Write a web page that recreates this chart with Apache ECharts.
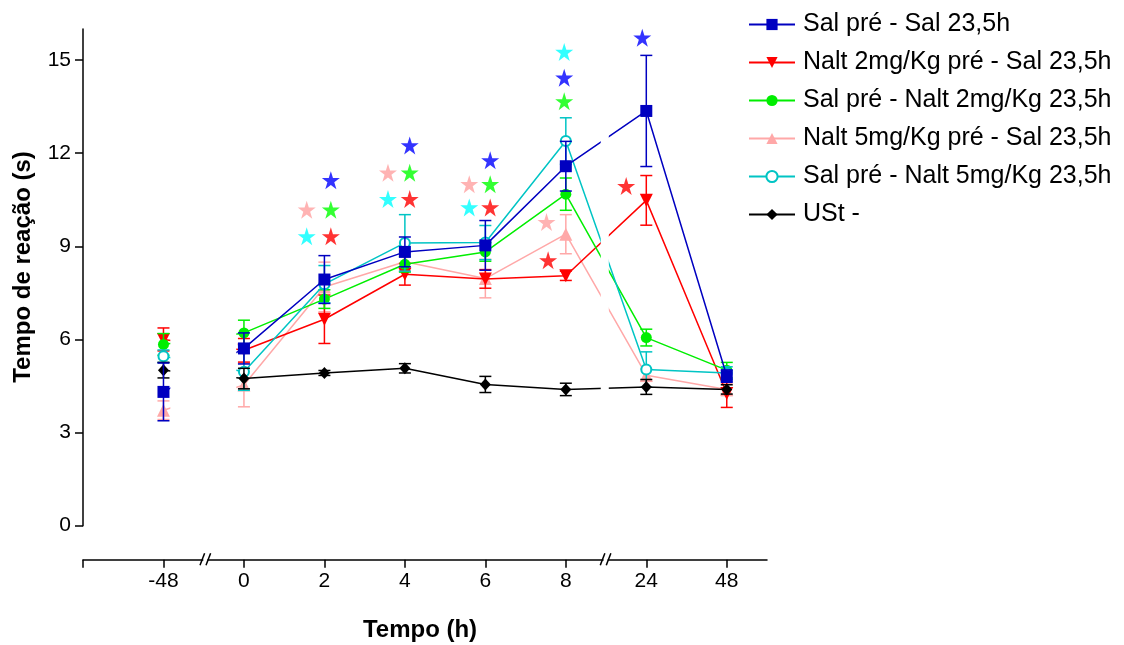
<!DOCTYPE html>
<html><head><meta charset="utf-8">
<script src="https://cdn.jsdelivr.net/npm/echarts@6/dist/echarts.min.js"></script>
<style>html,body{margin:0;padding:0;background:#fff}#c{width:1124px;height:645px}</style>
</head><body><div id="c"></div>
<script>
// ---- data ----
const categories = ['-48', '0', '2', '4', '6', '8', '24', '48'];
const yTicks = [0, 3, 6, 9, 12, 15];

const salSal      = [4.31, 5.71, 7.93, 8.82, 9.03, 11.58, 13.36, 4.82];
const salSalErr   = [0.93, 0.50, 0.77, 0.48, 0.80, 0.80, 1.79, 0.20];
const nalt2Sal    = [6.00, 5.65, 6.65, 8.10, 7.95, 8.05, 10.48, 4.26];
const nalt2SalErr = [0.37, 0.38, 0.78, 0.35, 0.30, 0.15, 0.80, 0.45];
const salNalt2    = [5.84, 6.21, 7.30, 8.42, 8.82, 10.68, 6.06, 5.01];
const salNalt2Err = [0.35, 0.41, 0.30, 0.25, 0.30, 0.52, 0.27, 0.25];
const nalt5Sal    = [3.72, 4.53, 7.69, 8.50, 7.96, 9.39, 4.85, 4.39];
const nalt5SalErr = [0.30, 0.70, 0.80, 0.30, 0.62, 0.63, 0.20, 0.20];
const salNalt5    = [5.46, 4.96, 7.78, 9.11, 9.12, 12.39, 5.03, 4.92];
const salNalt5Err = [0.20, 0.60, 0.60, 0.91, 0.55, 0.75, 0.57, 0.20];
const ust         = [5.01, 4.74, 4.92, 5.07, 4.55, 4.39, 4.47, 4.39];
const ustErr      = [0.25, 0.33, 0.08, 0.15, 0.26, 0.20, 0.24, 0.15];

// significance stars: [category position, value]
const starsBlue  = [[2.08, 11.13], [3.06, 12.25], [4.06, 11.77], [4.98, 14.43], [5.95, 15.72]];
const starsRed   = [[2.08, 9.32], [3.06, 10.52], [4.06, 10.25], [4.78, 8.55], [5.75, 10.94]];
const starsGreen = [[2.08, 10.18], [3.06, 11.37], [4.06, 11.00], [4.98, 13.67]];
const starsPink  = [[1.78, 10.18], [2.79, 11.37], [3.80, 11.00], [4.76, 9.78]];
const starsCyan  = [[1.78, 9.32], [2.79, 10.52], [3.80, 10.25], [4.98, 15.26]];

// axis breaks (category positions) and line gaps
const breaks = [0.52, 5.494];
const gaps = [[0.085, 0.905], [5.434, 5.534]];

// ---- styling ----
const FONT = '"Liberation Sans", Arial, Helvetica, sans-serif';
const STAR = 'path://M50,0 L61.2,34.5 L97.6,34.5 L68.2,55.9 L79.4,90.5 L50,69.1 L20.6,90.5 L31.8,55.9 L2.4,34.5 L38.8,34.5 Z';

const groups = [
  {name: 'Sal pré - Sal 23,5h', v: salSal, e: salSalErr, color: '#0000C0', symbol: 'rect', size: 12, rot: 0, z: 8},
  {name: 'Nalt 2mg/Kg pré - Sal 23,5h', v: nalt2Sal, e: nalt2SalErr, color: '#FF0000', symbol: 'triangle', size: 13, rot: 180, z: 4},
  {name: 'Sal pré - Nalt 2mg/Kg 23,5h', v: salNalt2, e: salNalt2Err, color: '#00EE00', symbol: 'circle', size: 11, rot: 0, z: 5},
  {name: 'Nalt 5mg/Kg pré - Sal 23,5h', v: nalt5Sal, e: nalt5SalErr, color: '#FFA8A8', symbol: 'triangle', size: 13, rot: 0, z: 3},
  {name: 'Sal pré - Nalt 5mg/Kg 23,5h', v: salNalt5, e: salNalt5Err, color: '#00C4C4', symbol: 'emptyCircle', size: 10, rot: 0, z: 6},
  {name: 'USt -', v: ust, e: ustErr, color: '#000000', symbol: 'diamond', size: [11, 12], rot: 0, z: 7}
];

function errorBar(color) {
  return function (params, api) {
    const x = api.value(0), y = api.value(1), e = api.value(2);
    const t = api.coord([x, y + e]);
    const b = api.coord([x, y - e]);
    const w = 6;
    const st = {stroke: color, lineWidth: 1.5};
    return {type: 'group', children: [
      {type: 'line', shape: {x1: t[0], y1: t[1], x2: b[0], y2: b[1]}, style: st},
      {type: 'line', shape: {x1: t[0] - w, y1: t[1], x2: t[0] + w, y2: t[1]}, style: st},
      {type: 'line', shape: {x1: b[0] - w, y1: b[1], x2: b[0] + w, y2: b[1]}, style: st}
    ]};
  };
}

const series = [];
groups.forEach(g => {
  series.push({
    type: 'custom', silent: true, z: g.z - 0.5,
    renderItem: errorBar(g.color),
    encode: {x: 0, y: 1},
    data: g.v.map((v, i) => [i, v, g.e[i]])
  });
  series.push({
    type: 'line', name: g.name, z: g.z,
    data: g.v.map((v, i) => [i, v]),
    symbol: g.symbol, symbolSize: g.size, symbolRotate: g.rot,
    showAllSymbol: true,
    lineStyle: {color: g.color, width: 1.5},
    itemStyle: {color: g.color, borderWidth: g.symbol === 'emptyCircle' ? 1.5 : 0, borderColor: g.color},
    emphasis: {disabled: true},
    animation: false
  });
});
[[starsBlue, '#0000FF'], [starsRed, '#FF0000'], [starsGreen, '#00FF00'], [starsPink, '#FFA0A0'], [starsCyan, '#00FFFF']]
  .forEach(([d, c]) => series.push({
    type: 'scatter', data: d, symbol: STAR, symbolSize: 18, z: 9,
    itemStyle: {color: c}, silent: true, animation: false
  }));

const chart = echarts.init(document.getElementById('c'), null, {renderer: 'canvas'});
chart.setOption({
  backgroundColor: '#fff',
  animation: false,
  grid: {left: 83, right: 357, top: 29, bottom: 119.3, containLabel: false},
  xAxis: {
    type: 'value', min: -1, max: 7.5, offset: 34, position: 'bottom',
    axisLine: {show: true, onZero: false, lineStyle: {color: '#000', width: 1.5}},
    axisTick: {show: true, length: 8, inside: false, lineStyle: {color: '#000', width: 1.5},
      customValues: [-1, 0, 1, 2, 3, 4, 5, 6, 7]},
    axisLabel: {show: true, margin: 11, color: '#000', fontSize: 21, fontFamily: FONT,
      customValues: [0, 1, 2, 3, 4, 5, 6, 7],
      formatter: v => categories[Math.round(v)] ?? ''},
    splitLine: {show: false}
  },
  yAxis: {
    type: 'value', min: 0, max: 16, position: 'left',
    axisLine: {show: true, onZero: false, lineStyle: {color: '#000', width: 1.5}},
    axisTick: {show: true, length: 8, lineStyle: {color: '#000', width: 1.5}, customValues: yTicks},
    axisLabel: {show: true, margin: 12, color: '#000', fontSize: 21, fontFamily: FONT, customValues: yTicks},
    splitLine: {show: false}
  },
  legend: {
    orient: 'vertical', left: 743, top: 7,
    itemWidth: 46, itemHeight: 14, itemGap: 13,
    data: groups.map(g => g.name),
    textStyle: {color: '#000', fontSize: 25, fontFamily: FONT, padding: [0, 0, 0, 3]},
    selectedMode: false
  },
  series: series
});

// masks for the broken segments, break marks, axis titles
const graphics = [];
const yTop = chart.convertToPixel({gridIndex: 0}, [0, 16])[1];
const yBot = chart.convertToPixel({gridIndex: 0}, [0, 0])[1];
gaps.forEach(([a, b]) => {
  const xa = chart.convertToPixel({gridIndex: 0}, [a, 0])[0];
  const xb = chart.convertToPixel({gridIndex: 0}, [b, 0])[0];
  graphics.push({type: 'rect', z: 50, silent: true,
    shape: {x: xa, y: yTop, width: xb - xa, height: yBot - yTop - 2},
    style: {fill: '#fff'}});
});
const axisY = yBot + 34;
breaks.forEach(bx => {
  const cx = chart.convertToPixel({gridIndex: 0}, [bx, 0])[0];
  graphics.push({type: 'rect', z: 60, silent: true,
    shape: {x: cx - 2, y: axisY - 2, width: 4, height: 4}, style: {fill: '#fff'}});
  [-3, 3].forEach(d => graphics.push({type: 'line', z: 61, silent: true,
    shape: {x1: cx + d - 2.3, y1: axisY + 5.5, x2: cx + d + 2.3, y2: axisY - 6.5},
    style: {stroke: '#000', lineWidth: 1.5}}));
});
graphics.push({type: 'text', z: 70, silent: true, x: 420, y: 630,
  style: {text: 'Tempo (h)', font: 'bold 24px ' + FONT, fill: '#000', textAlign: 'center', textVerticalAlign: 'middle'}});
graphics.push({type: 'text', z: 70, silent: true, x: 23, y: 267, rotation: Math.PI / 2,
  style: {text: 'Tempo de reação (s)', font: 'bold 24px ' + FONT, fill: '#000', textAlign: 'center', textVerticalAlign: 'middle'}});
chart.setOption({graphic: graphics});
</script>
</body></html>
